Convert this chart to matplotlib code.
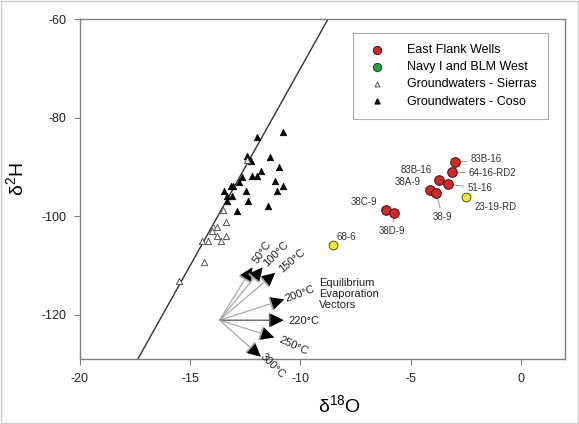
import matplotlib
matplotlib.use("Agg")
import matplotlib.pyplot as plt
from matplotlib.patches import Rectangle
import numpy as np

plt.rcParams['font.family'] = ['Liberation Sans', 'DejaVu Sans']
plt.rcParams['axes.unicode_minus'] = False
plt.rcParams['mathtext.fontset'] = 'custom'
plt.rcParams['mathtext.rm'] = 'Liberation Sans'

# Groundwaters - Coso (filled triangles)
coso_o18 = [-11.98, -10.77, -12.41, -12.30, -12.22, -11.38, -10.98, -11.77, -12.18, -11.98,
            -12.67, -12.77, -11.16, -10.77, -13.17, -13.06, -13.47, -12.47, -11.07, -13.35,
            -13.09, -12.38, -13.35, -12.86, -11.49]
coso_h2 = [-83.9, -82.9, -87.8, -88.6, -88.8, -87.9, -90.0, -90.8, -91.8, -91.8,
           -92.0, -93.0, -92.9, -93.9, -93.9, -93.9, -94.8, -94.8, -94.8, -96.0,
           -96.0, -96.9, -96.9, -98.9, -97.9]

# Groundwaters - Sierras (open triangles)
sierra_o18 = [-13.50, -13.38, -13.95, -13.80, -14.00, -13.77, -13.36, -14.46, -14.20, -13.59,
              -14.38, -15.52, -12.41]
sierra_h2 = [-98.7, -101.1, -102.1, -102.1, -103.0, -104.0, -104.0, -105.0, -105.0, -105.0,
             -109.2, -113.1, -88.5]

# East Flank wells
ef_names = ["83B-16", "64-16-RD2", "83B-16", "51-16", "38A-9", "38-9", "38C-9", "38D-9"]
ef_o18 = [-2.99, -3.11, -3.70, -3.33, -4.11, -3.86, -6.10, -5.77]
ef_h2 = [-89.1, -91.1, -92.7, -93.5, -94.7, -95.2, -98.7, -99.3]

# Other wells (yellow)
yw_names = ["23-19-RD", "68-6"]
yw_o18 = [-2.51, -8.52]
yw_h2 = [-96.2, -105.8]

# Navy I and BLM West (none plotted)
navy_o18 = []
navy_h2 = []

# Equilibrium evaporation vectors
vec_origin = (-13.67, -121.1)
vec_labels = ["50°C", "100°C", "150°C", "200°C", "220°C", "250°C", "300°C"]
vec_tip_o18 = [-12.18, -11.72, -11.15, -10.74, -10.77, -11.19, -11.80]
vec_tip_h2 = [-110.4, -110.4, -111.5, -116.9, -121.1, -124.6, -128.5]

fig = plt.figure(figsize=(5.79, 4.24), dpi=100)
ax = fig.add_axes([0.138, 0.153, 0.838, 0.802])

# Global meteoric water line
xl = np.array([-20.0, 2.0])
ax.plot(xl, 8 * xl + 10, color="#333333", lw=1.0, zorder=2)

ax.scatter(coso_o18, coso_h2, marker="^", s=22, c="black", edgecolors="black",
           linewidths=0.5, zorder=4)
ax.scatter(sierra_o18, sierra_h2, marker="^", s=20, facecolors="white",
           edgecolors="#555555", linewidths=0.7, zorder=4)
ax.scatter(ef_o18, ef_h2, marker="o", s=48, c="#cc2a2a", edgecolors="#4a1010",
           linewidths=0.7, zorder=5)
ax.scatter(yw_o18, yw_h2, marker="o", s=40, c="#f2e830", edgecolors="#555500",
           linewidths=0.7, zorder=5)

# Vectors
ox, oy = vec_origin
for i, (tx, ty) in enumerate(zip(vec_tip_o18, vec_tip_h2)):
    col = "#555555" if vec_labels[i] == "220°C" else "#aaaaaa"
    ax.annotate("", xy=(tx, ty), xytext=(ox, oy),
                arrowprops=dict(arrowstyle="-|>,head_length=0.9,head_width=0.45",
                                color=col, lw=0.9, shrinkA=0, shrinkB=0),
                zorder=3)
    ax.annotate("", xy=(tx, ty), xytext=(ox + 0.9 * (tx - ox), oy + 0.9 * (ty - oy)),
                arrowprops=dict(arrowstyle="-|>,head_length=0.9,head_width=0.45",
                                color="black", lw=0.1, shrinkA=0, shrinkB=0),
                zorder=3)

vlab = [(-11.75, -107.2, 55), (-11.1, -107.6, 45), (-10.4, -109.0, 40),
        (-10.0, -115.7, 20), (-9.85, -121.3, 0), (-10.3, -126.4, -25), (-11.25, -130.3, -45)]
for lab, (lx, ly, rot) in zip(vec_labels, vlab):
    ax.text(lx, ly, lab, fontsize=8, rotation=rot, ha="center", va="center",
            color="#222222", rotation_mode="anchor", zorder=6)

ax.text(-9.16, -115.8, "Equilibrium\nEvaporation\nVectors", fontsize=8, ha="left",
        va="center", color="#222222", linespacing=1.15)

# Well labels with leader lines
ef_text = [(-2.28, -88.4, "left"), (-2.37, -91.2, "left"), (-4.05, -90.6, "right"),
           (-2.41, -94.3, "left"), (-4.56, -93.1, "right"), (-3.55, -100.2, "center"),
           (-6.52, -97.1, "right"), (-5.83, -103.0, "center")]
lc = "#888888"
for name, x, y, (tx, ty, ha) in zip(ef_names, ef_o18, ef_h2, ef_text):
    ax.annotate(name, xy=(x, y), xytext=(tx, ty), fontsize=7, ha=ha, va="center",
                color="#333333",
                arrowprops=dict(arrowstyle="-", color=lc, lw=0.6, shrinkA=1, shrinkB=3))
yw_text = [(-2.10, -98.1, "left"), (-7.93, -104.2, "center")]
for name, x, y, (tx, ty, ha) in zip(yw_names, yw_o18, yw_h2, yw_text):
    ax.annotate(name, xy=(x, y), xytext=(tx, ty), fontsize=7, ha=ha, va="center",
                color="#333333",
                arrowprops=dict(arrowstyle="-", color=lc, lw=0.6, shrinkA=1, shrinkB=3)
                if name != "68-6" else None)

ax.set_xlim(-20, 2)
ax.set_ylim(-129, -60)
ax.set_xticks([-20, -15, -10, -5, 0])
ax.set_yticks([-120, -100, -80, -60])
for s in ax.spines.values():
    s.set_color("#808080")
    s.set_linewidth(1.0)
ax.tick_params(direction="out", length=4, color="#808080", labelsize=9,
               labelcolor="#222222", pad=6)
ax.set_xlabel("δ$^{18}$O", fontsize=14)
ax.set_ylabel("δ$^{2}$H", fontsize=14)
ax.xaxis.set_label_coords(0.536, -0.105)
ax.yaxis.set_label_coords(-0.107, 0.53)

# Legend
h1 = ax.scatter([], [], marker="o", s=36, c="#cc2a2a", edgecolors="#4a1010", linewidths=0.7)
h2 = ax.scatter(navy_o18, navy_h2, marker="o", s=36, c="#2e9a4a", edgecolors="#104a20",
                linewidths=0.7)
h3 = ax.scatter([], [], marker="^", s=12, facecolors="white", edgecolors="#555555",
                linewidths=0.7)
h4 = ax.scatter([], [], marker="^", s=12, c="black")
leg = ax.legend([h1, h2, h3, h4],
                ["East Flank Wells", "Navy I and BLM West", "Groundwaters - Sierras",
                 "Groundwaters - Coso"],
                loc="upper right", bbox_to_anchor=(0.965, 0.96), fontsize=9,
                frameon=True, fancybox=False, edgecolor="#999999", handletextpad=1.4,
                labelspacing=0.42, borderpad=0.9, handlelength=2.0, borderaxespad=0)
leg.get_frame().set_linewidth(0.8)

# Outer border
fig.patches.append(Rectangle((0.002, 0.002), 0.996, 0.996, transform=fig.transFigure,
                             fill=False, edgecolor="#cccccc", lw=1.0))

fig.savefig("out.png", dpi=100)
